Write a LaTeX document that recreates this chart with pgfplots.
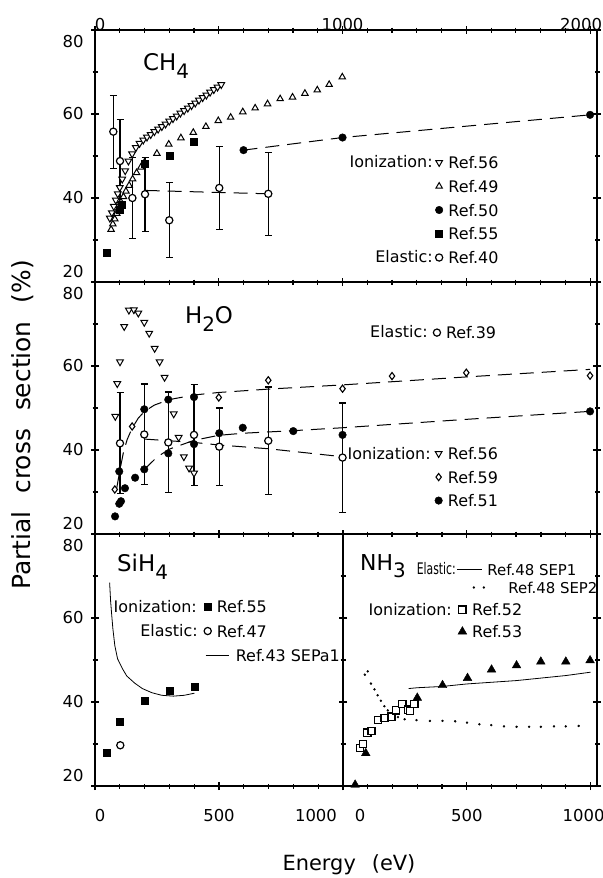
\documentclass[border=0pt]{standalone}
\usepackage{fontspec}
\setmainfont{DejaVu Sans}
\usepackage{graphicx}
\usepackage{pgfplots}
\pgfplotsset{compat=1.18}
\newcommand\ylab[2]{\smash{\raisebox{\dimexpr -0.36em+#2\relax}{#1}}}
\newcommand\sub[1]{\raisebox{-0.36em}{\fontsize{20}{20}\selectfont #1}}
\tikzset{txt/.style={font=\fontsize{16}{16}\selectfont, inner sep=0pt}}
\pgfplotsset{
  panel/.style={
    scale only axis, anchor=south west, height=252bp,
    ymin=20, ymax=80, ytick={20,40,60,80}, minor y tick num=1, minor x tick num=4,
    axis line style={line width=1.4bp},
    tick align=center, major tick length=8bp, minor tick length=5bp,
    tick style={line width=1.1bp, black},
    tick label style={font=\fontsize{16.5}{16.5}\selectfont},
    yticklabel={\pgfmathtruncatemacro\tk{\tick}\ifnum\tk=80 \ylab{80}{-12bp}\else\ifnum\tk=20 \ylab{20}{10bp}\else\ylab{\tk}{0bp}\fi\fi},
    yticklabel style={xshift=-4bp},
    clip=false,
    legend cell align=left,
  },
  lg/.style={legend style={draw=none, fill=none, inner sep=0pt, outer sep=0pt, anchor=north west,
      font=\fontsize{16}{16}\selectfont, column sep=5bp, row sep=#1,
      nodes={inner sep=0.5bp, text height=12bp, text depth=0bp}}},
  mimg/.style={legend image code/.code={\draw plot coordinates {(0bp,0bp)};}},
  dtri/.style={black, only marks, mark=triangle*, mark size=3.9bp, mark options={rotate=180, line width=1bp, fill=white}, mimg},
  utri/.style={black, only marks, mark=triangle*, mark size=3.7bp, mark options={line width=1bp, fill=white}, mimg},
  fcirc/.style={black, only marks, mark=*, mark size=3.8bp, mimg},
  fsq/.style={black, only marks, mark=square*, mark size=3.5bp, mimg},
  ocirc/.style={black, only marks, mark=*, mark size=3.6bp, mark options={line width=1.2bp, fill=white}, mimg},
  odia/.style={black, only marks, mark=diamond*, mark size=3.6bp, mark options={line width=1.1bp, fill=white}, mimg},
  osq/.style={black, only marks, mark=square*, mark size=3.6bp, mark options={line width=1.3bp, fill=white}, mimg},
  ftri/.style={black, only marks, mark=triangle*, mark size=5bp, mimg},
  dsh/.style={black, line width=1bp, dash pattern=on 14bp off 8bp, forget plot, mark=none},
  errs/.style={black, only marks, mark=none, forget plot, error bars/.cd, y dir=both, y explicit, error mark=-,
    error bar style={line width=1.2bp, black}, error mark options={mark size=3.5bp, line width=1.2bp, black, rotate=90}},
}
\begin{document}
\begin{tikzpicture}
\useasboundingbox (0bp,0bp) rectangle (603bp,-878bp);

% ---------------- CH4 ----------------
\begin{axis}[panel, at={(95bp,-282bp)}, width=502bp, xmin=0, xmax=2028,
  xtick={0,500,1000,1500,2000}, xticklabels={\hspace*{10bp}0,,1000,,2000\hspace*{18bp}},
  xticklabel pos=right, xticklabel style={yshift=-8bp},
  lg=10.75bp, legend style={at={(0.678,0.5)}}]
\addplot[dtri] coordinates {(60,35.2)(68,36.5)(76,38)(84,39.5)(92,41)(100,42.5)(110,44.5)(122,46.5)(135,48.8)(150,50.5)(165,52)(180,53)(195,53.8)(210,54.5)(225,55.1)(240,55.8)(255,56.4)(270,57)(285,57.6)(300,58.3)(315,58.9)(330,59.5)(345,60.2)(360,60.8)(375,61.4)(390,62)(405,62.6)(420,63.3)(435,63.9)(450,64.5)(465,65.2)(480,65.8)(495,66.4)(510,67)};
\addlegendentry{Ref.56}
\addplot[utri] coordinates {(65,32.5)(72,33.8)(80,35)(88,36.3)(96,37.6)(105,39)(115,40.3)(125,41.6)(138,43)(152,44.5)(168,46)(185,47.3)(200,48.5)(250,50.6)(298,52.8)(347,54.3)(397,55.6)(448,57)(498,58.4)(548,59.2)(597,60.5)(647,61.4)(697,62.4)(748,63.6)(798,64)(848,64.9)(898,65.7)(946,67)(999,68.8)};
\addlegendentry{Ref.49}
\addplot[dsh] coordinates {(600,51.4)(1000,54.4)(2000,59.8)};
\addplot[fcirc] coordinates {(600,51.4)(1000,54.4)(2000,59.8)};
\addlegendentry{Ref.50}
\addplot[fsq] coordinates {(48,27)(100,37.3)(108,38.5)(200,48.2)(300,50.1)(400,53.3)};
\addlegendentry{Ref.55}
\addplot[dsh] coordinates {(205,41.8)(700,41)};
\addplot[errs] coordinates {(74,55.8)+-(0,8.7)(101,48.8)+-(0,9.8)(151,40)+-(0,9.6)(202,40.9)+-(0,8.8)(300,34.7)+-(0,8.9)(502,42.4)+-(0,9.9)(700,41)+-(0,9.9)};
\addplot[ocirc] coordinates {(74,55.8)(101,48.8)(151,40)(202,40.9)(300,34.7)(502,42.4)(700,41)};
\addlegendentry{Ref.40}
\node[anchor=base west, font=\fontsize{23}{23}\selectfont, inner sep=0pt] at (rel axis cs:0.0956,0.841) {CH\sub{4}};
\node[txt, anchor=east] at (rel axis cs:0.673,0.476) {Ionization:};
\node[txt, anchor=east] at (rel axis cs:0.673,0.099) {Elastic:};
\end{axis}

% ---------------- H2O ----------------
\begin{axis}[panel, at={(95bp,-534bp)}, width=502bp, xmin=0, xmax=2028,
  xtick={0,500,1000,1500,2000}, xticklabels={},
  lg=10.5bp, legend style={at={(0.677,0.345)}}]
\addplot[dsh] coordinates {(88,31)(100,35)(115,39.5)(130,42.5)(150,45.2)(175,47.6)(200,49.2)(240,50.7)(300,52)(400,53.1)(500,53.7)(700,54.5)(1000,55.5)(1500,57.4)(2000,59.2)};
\addplot[dsh] coordinates {(200,35.4)(250,38.3)(300,40.2)(400,42.3)(500,43.5)(600,44)(800,44.6)(1000,45.3)(1500,47.3)(2000,49.2)};
\addplot[dsh] coordinates {(200,42.6)(400,41.8)(500,41.2)(700,40.3)(1000,38.4)};
\addplot[errs] coordinates {(101,41.6)+-(0,12)(199,43.7)+-(0,12)(296,41.8)+-(0,12)(400,43.6)+-(0,12)(502,40.8)+-(0,9.2)(700,42.2)+-(0,12.8)(1000,38.2)+-(0,13)};
\addplot[ocirc, forget plot] coordinates {(101,41.6)(199,43.7)(296,41.8)(400,43.6)(502,40.8)(700,42.2)(1000,38.2)};
\addplot[fcirc, forget plot] coordinates {(98,34.9)(199,49.7)(296,52)(400,52.6)};
\addplot[dtri] coordinates {(82,48)(90,55.8)(101,61)(118,69.4)(137,73.3)(157,73.4)(175,72.6)(199,70.4)(219,67.8)(241,64.2)(261,61)(281,57.3)(318,48.6)(338,43)(359,38.4)(380,35.7)(400,34.5)};
\addlegendentry{Ref.56}
\addplot[odia] coordinates {(80,30.6)(150,45.6)(500,52.5)(700,56.6)(1000,54.6)(1200,57.6)(1500,58.4)(2000,57.7)};
\addlegendentry{Ref.59}
\addplot[fcirc] coordinates {(81,24.2)(98,27.2)(105,27.8)(121,30.9)(162,33.4)(199,35.4)(296,39.2)(400,41.4)(502,44)(597,45.3)(801,44.5)(1000,43.6)(2000,49.2)};
\addlegendentry{Ref.51}
\node[anchor=base west, font=\fontsize{23}{23}\selectfont, inner sep=0pt] at (rel axis cs:0.179,0.837) {H\sub{2}O};
\node[txt, anchor=east] at (rel axis cs:0.663,0.802) {Elastic:};
\node[txt, anchor=east] at (rel axis cs:0.669,0.321) {Ionization:};
\end{axis}
\begin{axis}[at={(95bp,-534bp)}, anchor=south west, scale only axis, width=502bp, height=252bp,
  xmin=0, xmax=2028, ymin=20, ymax=80, hide axis, lg=10bp, legend cell align=left,
  legend style={at={(0.674,0.825)}}]
\addlegendimage{ocirc}
\addlegendentry{Ref.39}
\end{axis}

% ---------------- SiH4 ----------------
\begin{axis}[panel, at={(95bp,-786bp)}, width=248bp, xmin=0, xmax=1000,
  xtick={0,500,1000}, xticklabels={\hspace*{10bp}0,500,1000\hspace*{54bp}},
  xticklabel style={yshift=-16bp},
  lg=11.5bp, legend style={at={(0.44,0.738)}}]
\addplot[fsq] coordinates {(48,28)(101,35.3)(200,40.2)(300,42.8)(401,43.7)};
\addlegendentry{Ref.55}
\addplot[ocirc] coordinates {(102,29.7)};
\addlegendentry{Ref.47}
\addplot[black, line width=0.8bp, mark=none, legend image code/.code={\draw[overlay] (-2bp,0bp) -- (21bp,0bp); \path[draw=none, fill=none] (-3bp,-3bp) rectangle (3bp,3bp);}]
  coordinates {(59,68.4)(63,64)(67,61)(72,57.5)(80,53.4)(91,50.3)(110,48)(128,46.2)(160,44.5)(191,43.2)(230,42.2)(269,41.6)(316,41.4)(360,41.6)(401,42.1)};
\addlegendentry{\hspace*{19bp}Ref.43 SEPa1}
\node[anchor=base west, font=\fontsize{23}{23}\selectfont, inner sep=0pt] at (rel axis cs:0.0887,0.853) {SiH\sub{4}};
\node[txt, anchor=east] at (rel axis cs:0.411,0.714) {Ionization:};
\node[txt, anchor=east] at (rel axis cs:0.415,0.615) {Elastic:};
\end{axis}

% ---------------- NH3 ----------------
\begin{axis}[panel, at={(343bp,-786bp)}, width=254bp, xmin=0, xmax=1026,
  xtick={0,500,1000}, xticklabels={\hspace*{34bp}0,500,1000\hspace*{14bp}},
  xticklabel style={yshift=-16bp}, yticklabels={},
  lg=5bp, legend style={at={(0.447,0.885)}, column sep=2bp, font=\fontsize{15}{15}\selectfont}]
\addplot[black, line width=0.8bp, mark=none, legend image code/.code={\draw (0bp,0bp) -- (25bp,0bp);}]
  coordinates {(265,43.2)(300,43.4)(400,43.7)(500,44.3)(600,44.7)(700,45.1)(800,45.7)(900,46.3)(1000,47.1)};
\addlegendentry{Ref.48 SEP1}
\addplot[black, only marks, mark=*, mark size=1bp, legend image code/.code={\draw plot coordinates {(17bp,0bp)(27bp,0bp)}; \path[draw=none, fill=none] (0bp,-2bp) rectangle (25bp,2bp);}]
  coordinates {(88,46.5)(100,47.3)(113,44.4)(127,43)(140,41.6)(153,40.3)(167,39)(181,38)(195,37.2)(222,36.4)(249,35.9)(297,35.7)(351,35.5)(402,35.5)(453,35.4)(501,35.1)(551,34.7)(599,34.5)(650,34.2)(701,34.1)(752,34.1)(799,34.1)(852,34.2)(900,34.2)(952,34.3)};
\addlegendentry{\hspace*{21bp}Ref.48 SEP2}
\addplot[osq, forget plot] coordinates {(68,29)(80,30)(98,32.7)(115,33.1)(142,35.7)(168,36.2)(196,36.5)(214,38)(240,39.5)(262,38.2)(270,37.9)(288,39.5)};
\addplot[ftri, forget plot] coordinates {(49,20.3)(92,27.8)(300,41)(402,44)(503,45.7)(600,47.7)(701,48.7)(799,49.6)(900,49.6)(998,49.9)};
\node[anchor=base west, font=\fontsize{22}{22}\selectfont, inner sep=0pt] at (rel axis cs:0.067,0.857) {NH\sub{3}};
\node[txt, anchor=east] at (rel axis cs:0.445,0.861) {\scalebox{0.68}[1]{Elastic:}};
\node[txt, anchor=east] at (rel axis cs:0.429,0.702) {Ionization:};
\end{axis}
\begin{axis}[at={(343bp,-786bp)}, anchor=south west, scale only axis, width=254bp, height=252bp,
  xmin=0, xmax=1026, ymin=20, ymax=80, hide axis, lg=9bp, legend cell align=left,
  legend style={at={(0.453,0.726)}}]
\addlegendimage{osq}
\addlegendentry{Ref.52}
\addlegendimage{ftri}
\addlegendentry{Ref.53}
\end{axis}

\node[rotate=90, font=\fontsize{25}{25}\selectfont] at (23bp,-425bp) {Partial\hspace{18bp}cross\hspace{18bp}section\hspace{18bp}(\%)};
\node[font=\fontsize{21}{21}\selectfont] at (349bp,-865bp) {Energy\hspace{16bp}(eV)};
\end{tikzpicture}
\end{document}
